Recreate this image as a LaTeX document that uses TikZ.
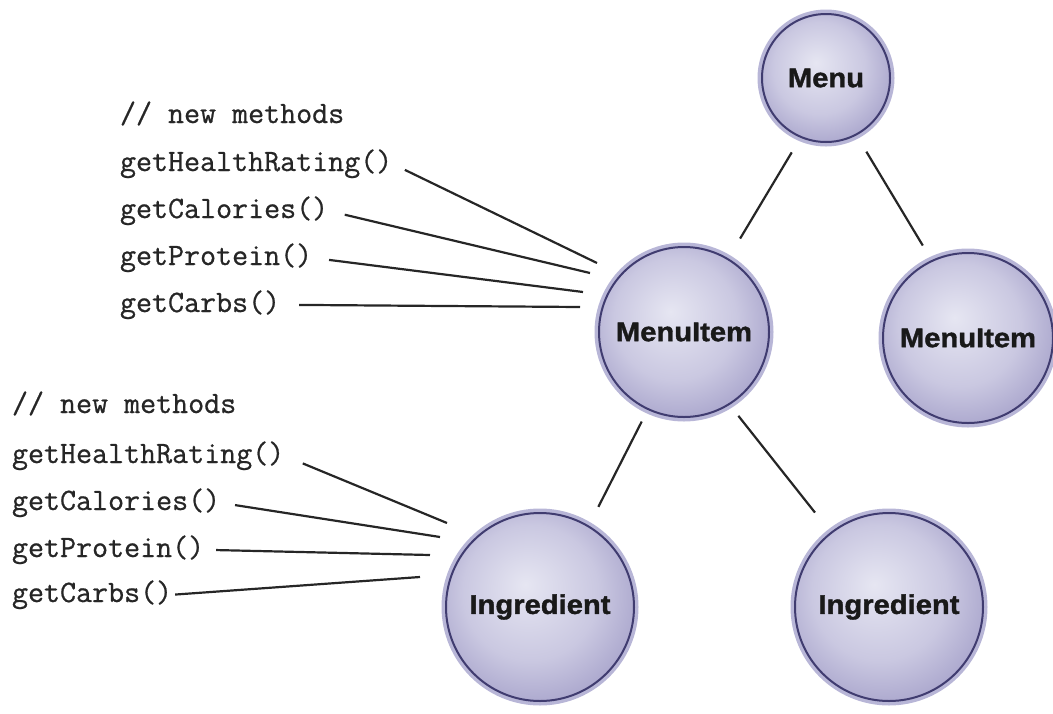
\documentclass[tikz,border=0pt]{standalone}
\usepackage{fontspec}
\newfontfamily\codefont[FakeBold=0.7]{Latin Modern Mono}
\newfontfamily\lblfont[FakeBold=1.4,FakeStretch=1.08]{Liberation Sans Bold}
\definecolor{cin}{RGB}{230,230,242}
\definecolor{cmid}{RGB}{202,200,225}
\definecolor{cedge}{RGB}{150,145,192}
\definecolor{cborder}{RGB}{64,60,112}
\definecolor{chalo}{RGB}{184,182,215}
\definecolor{cdeep}{RGB}{108,103,156}
\pgfdeclareradialshading{ballshade}{\pgfpoint{-4bp}{6bp}}{color(0bp)=(cin); color(18bp)=(cmid); color(36bp)=(cedge); color(45bp)=(cdeep); color(50bp)=(cborder)}
\tikzset{
  ball/.style={circle, inner sep=0pt, outer sep=0pt, minimum size=#1,
    shading=ballshade, draw=cborder, line width=2pt,
    preaction={draw=chalo, line width=9pt},
    font=\lblfont\fontsize{27}{30}\selectfont, text=black!90},
  code/.style={anchor=base west, inner sep=0pt, outer sep=0pt,
    font=\codefont\fontsize{31.1}{34}\selectfont, text=black!85},
  link/.style={line width=2.2pt, draw=black!85}
}
\begin{document}
\begin{tikzpicture}[x=1pt,y=-1pt]
\useasboundingbox (0,0) rectangle (1053,713);
% circles
\node[ball=128] (menu) at (826,78) {Menu};
\node[ball=170] (mi1) at (684,332) {MenuItem};
\node[ball=170] (mi2) at (968,338) {MenuItem};
\node[ball=188] (ing1) at (540,607) {Ingredient};
\node[ball=188] (ing2) at (889,607) {Ingredient};
% tree connectors
\draw[link, shorten <=18pt, shorten >=24pt] (menu.-113.7) -- (mi1.59.2);
\draw[link, shorten <=20pt, shorten >=18pt] (menu.-62.5) -- (mi2.115.8);
\draw[link, shorten <=14pt, shorten >=22pt] (mi1.-115) -- (ing1.59.5);
\draw[link, shorten <=15pt, shorten >=26pt] (mi1.-58) -- (ing2.128.6);
% upper method list
\node[code] (u0) at (120,123) {// new methods};
\node[code] (u1) at (120,171) {getHealthRating()};
\node[code] (u2) at (120,218) {getCalories()};
\node[code] (u3) at (120,265) {getProtein()};
\node[code] (u4) at (120,312) {getCarbs()};
\coordinate (ue1) at (597,263);
\coordinate (ue2) at (590,273);
\coordinate (ue3) at (583,292);
\coordinate (ue4) at (580,307);
\draw[link, shorten <=14pt] (u1.east) -- (ue1);
\draw[link, shorten <=17pt] (u2.east) -- (ue2);
\draw[link, shorten <=17pt] (u3.east) -- (ue3);
\draw[link, shorten <=19pt] (u4.east) -- (ue4);
% lower method list
\node[code] (l0) at (12,413) {// new methods};
\node[code] (l1) at (12,463) {getHealthRating()};
\node[code] (l2) at (12,510) {getCalories()};
\node[code] (l3) at (12,557) {getProtein()};
\node[code] (l4) at (12,602) {getCarbs()};
\coordinate (le1) at (447,523);
\coordinate (le2) at (440,537);
\coordinate (le3) at (430,555);
\coordinate (le4) at (420,577);
\draw[link, shorten <=20pt] (l1.east) -- (le1);
\draw[link, shorten <=15pt] (l2.east) -- (le2);
\draw[link, shorten <=12pt] (l3.east) -- (le3);
\draw[link, shorten <=3pt] (l4.east) -- (le4);
\end{tikzpicture}
\end{document}
